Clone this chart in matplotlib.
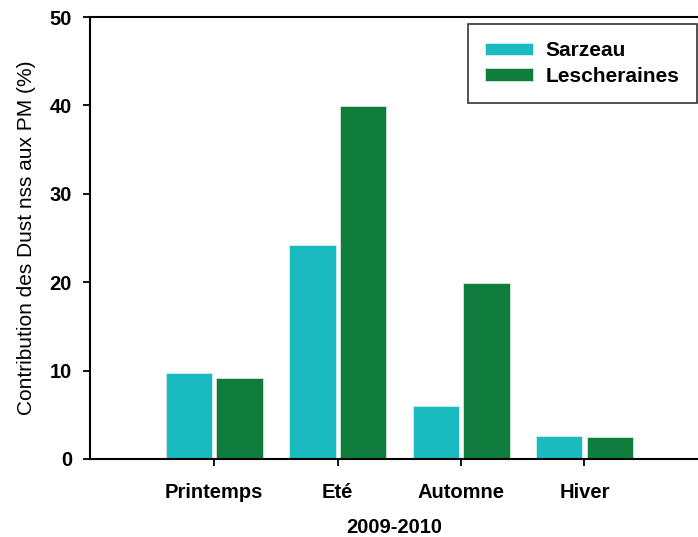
import matplotlib.pyplot as plt
import numpy as np

saisons = ['Printemps', 'Eté', 'Automne', 'Hiver']
sarzeau = [9.7, 24.2, 6.0, 2.6]
lescheraines = [9.2, 39.9, 19.9, 2.5]

plt.rcParams['font.family'] = ['Liberation Sans', 'DejaVu Sans']

fig = plt.figure(figsize=(6.98, 5.37), dpi=100)
ax = fig.add_axes([0.129, 0.1453, 0.871, 0.823])

x = np.arange(len(saisons))
w = 0.375
ax.bar(x - 0.205, sarzeau, w, color='#1ABBC0', edgecolor='#d8eeee', linewidth=0.6, label='Sarzeau')
ax.bar(x + 0.205, lescheraines, w, color='#0E7D3C', edgecolor='#d8e8d8', linewidth=0.6, label='Lescheraines')

ax.set_xlim(-1.007, 3.92)
ax.set_ylim(0, 50)
ax.set_xticks(x)
ax.set_xticklabels(saisons, fontsize=14.5, fontweight='bold')
ax.set_yticks([0, 10, 20, 30, 40, 50])
ax.set_yticklabels(['0', '10', '20', '30', '40', '50'], fontsize=14.5, fontweight='bold')
ax.tick_params(axis='both', direction='out', length=5, width=1.3, colors='black')
ax.tick_params(axis='x', pad=12)
ax.tick_params(axis='y', pad=8)

for s in ax.spines.values():
    s.set_linewidth(1.5)
ax.spines['right'].set_visible(False)

ax.set_xlabel('2009-2010', fontsize=14.5, fontweight='bold', labelpad=12)
ax.set_ylabel('Contribution des Dust nss aux PM (%)', fontsize=15, labelpad=10)

# legende en haut a droite, boite noire carree
leg = ax.legend(loc='upper right', bbox_to_anchor=(0.999, 0.985),
                prop={'weight': 'bold', 'size': 15}, fancybox=False, frameon=True,
                handlelength=2.3, handleheight=0.55, borderpad=0.85, labelspacing=0.3,
                handletextpad=0.6, borderaxespad=0)
leg.get_frame().set_edgecolor('black')
leg.get_frame().set_linewidth(1.2)

fig.savefig('out.png', dpi=100)
